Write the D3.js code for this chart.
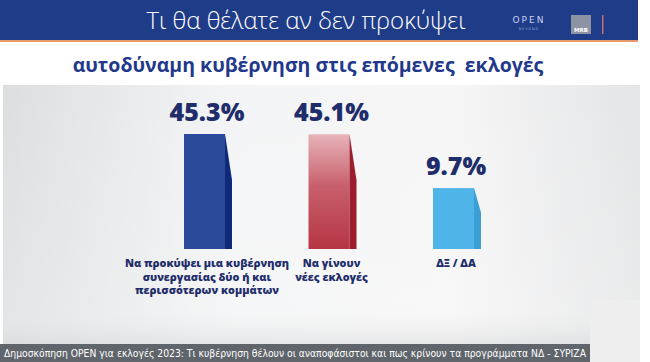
<!DOCTYPE html>
<html><head><meta charset="utf-8">
<script src="https://cdn.jsdelivr.net/npm/d3@7"></script>
<style>html,body{margin:0;padding:0;background:#fff;overflow:hidden}svg{display:block}</style>
</head><body>
<script>
const categories = ["coalition", "newElections", "dkna"];
const values = [45.3, 45.1, 9.7];
const valueLabels = ["45.3%", "45.1%", "9.7%"];
const categoryLabels = [
  ["Να προκύψει μια κυβέρνηση", "συνεργασίας δύο ή και", "περισσότερων κομμάτων"],
  ["Να γίνουν", "νέες εκλογές"],
  ["ΔΞ / ΔΑ"]
];
const title = "Τι θα θέλατε αν δεν προκύψει";
const subtitle = "αυτοδύναμη κυβέρνηση στις επόμενες\u00a0 εκλογές";
const footer = "Δημοσκόπηση OPEN για εκλογές 2023: Τι κυβέρνηση θέλουν οι αναποφάσιστοι και πως κρίνουν τα προγράμματα ΝΔ - ΣΥΡΙΖΑ";

const W = 650, H = 362;
const svg = d3.select("body").append("svg").attr("width", W).attr("height", H);
const defs = svg.append("defs");

const bg = defs.append("linearGradient").attr("id","bg").attr("x1","0").attr("x2","1").attr("y1","0").attr("y2","0");
bg.append("stop").attr("offset","0").attr("stop-color","#dcdedf");
bg.append("stop").attr("offset","0.35").attr("stop-color","#f3f4f5");
bg.append("stop").attr("offset","0.7").attr("stop-color","#f6f6f7");
bg.append("stop").attr("offset","1").attr("stop-color","#e4e5e6");
const bgv = defs.append("linearGradient").attr("id","bgv").attr("x1","0").attr("x2","0").attr("y1","0").attr("y2","1");
bgv.append("stop").attr("offset","0").attr("stop-color","#ffffff").attr("stop-opacity","0");
bgv.append("stop").attr("offset","0.85").attr("stop-color","#ffffff").attr("stop-opacity","0.2");
bgv.append("stop").attr("offset","1").attr("stop-color","#d8d9da").attr("stop-opacity","0.6");

const redG = defs.append("linearGradient").attr("id","redG").attr("x1","0").attr("x2","0").attr("y1","0").attr("y2","1");
redG.append("stop").attr("offset","0").attr("stop-color","#e7b3ba");
redG.append("stop").attr("offset","0.45").attr("stop-color","#c8606c");
redG.append("stop").attr("offset","1").attr("stop-color","#b63544");

// header band
svg.append("rect").attr("x",0).attr("y",0).attr("width",638).attr("height",40).attr("fill","#1f3c88");
svg.append("rect").attr("x",0).attr("y",40).attr("width",638).attr("height",2).attr("fill","#e59a6a");
svg.append("text").attr("x",306).attr("y",29).attr("text-anchor","middle")
  .attr("font-family","'Open Sans', 'Noto Sans', sans-serif").attr("font-weight",300)
  .attr("font-size",24).attr("fill","#ffffff").text(title);
// logos
svg.append("text").attr("x",529).attr("y",23).attr("text-anchor","middle")
  .attr("font-family","'DejaVu Sans', sans-serif").attr("font-size",9).attr("letter-spacing",2)
  .attr("fill","#c9d3ee").text("OPEN");
svg.append("text").attr("x",529).attr("y",30).attr("text-anchor","middle")
  .attr("font-family","'DejaVu Sans', sans-serif").attr("font-size",3.5).attr("letter-spacing",1)
  .attr("fill","#9fb0d8").text("BEYOND");
svg.append("rect").attr("x",571).attr("y",15).attr("width",20).attr("height",19).attr("fill","#8d93a3");
svg.append("text").attr("x",581).attr("y",32).attr("text-anchor","middle")
  .attr("font-family","'DejaVu Sans', sans-serif").attr("font-weight","bold").attr("font-size",5.5)
  .attr("fill","#ffffff").text("MRB");
svg.append("rect").attr("x",602).attr("y",15).attr("width",1.5).attr("height",19).attr("fill","#c27070");

// subtitle
svg.append("text").attr("x",308).attr("y",72).attr("text-anchor","middle")
  .attr("font-family","'Open Sans', 'Noto Sans', sans-serif").attr("font-weight",700)
  .attr("font-size",19.5).attr("fill","#22388a").text(subtitle);

// panel
svg.append("rect").attr("x",3).attr("y",85).attr("width",637).attr("height",262).attr("fill","url(#bg)");
svg.append("rect").attr("x",3).attr("y",85).attr("width",637).attr("height",262).attr("fill","url(#bgv)");
svg.append("rect").attr("x",590).attr("y",300).attr("width",50).attr("height",62).attr("fill","#eeeeef");

// scales
const x = d3.scalePoint().domain(categories).range([208, 457]);
const y = d3.scaleLinear().domain([-30.4, 45.3]).range([249, 134]);
const bw = 48, strip = 7;

const faceFill = ["#2b4a9c", "url(#redG)", "#4fb4e8"];
const stripFill = ["#0f2a78", "#9c1d2e", "#3b9fd6"];

const g = svg.append("g");
categories.forEach((c, i) => {
  const cx = x(c), x0 = cx - bw/2, x1 = cx + bw/2;
  const top = y(values[i]), base = y(-30.4);
  const slant = Math.min(46, (base - top) * 0.4);
  g.append("rect").attr("x", x0).attr("y", top).attr("width", bw - strip).attr("height", base - top)
    .attr("fill", faceFill[i]);
  g.append("path").attr("d", `M${x1-strip},${top} L${x1},${top+slant} L${x1},${base} L${x1-strip},${base} Z`)
    .attr("fill", stripFill[i]);
  g.append("text").attr("x", cx - 1).attr("y", top - 13).attr("text-anchor","middle")
    .attr("font-family","'Open Sans', 'Noto Sans', sans-serif").attr("font-weight",800)
    .attr("font-size",25).attr("fill","#1f2d6b").text(valueLabels[i]);
  categoryLabels[i].forEach((ln, j) => {
    g.append("text").attr("x", cx - 1).attr("y", 267 + j*13.5).attr("text-anchor","middle")
      .attr("font-family","'Open Sans', 'Noto Sans', sans-serif").attr("font-weight",800)
      .attr("font-size",10.8).attr("fill","#1f2d6b").text(ln);
  });
});

// footer
svg.append("rect").attr("x",0).attr("y",344).attr("width",590).attr("height",18).attr("fill","#5f656b");
svg.append("text").attr("x",4).attr("y",357)
  .attr("font-family","'Liberation Sans Narrow', 'DejaVu Sans Condensed', sans-serif")
  .attr("font-size",11).attr("fill","#ffffff")
  .attr("textLength",582).attr("lengthAdjust","spacingAndGlyphs").text(footer);
</script>
</body></html>
